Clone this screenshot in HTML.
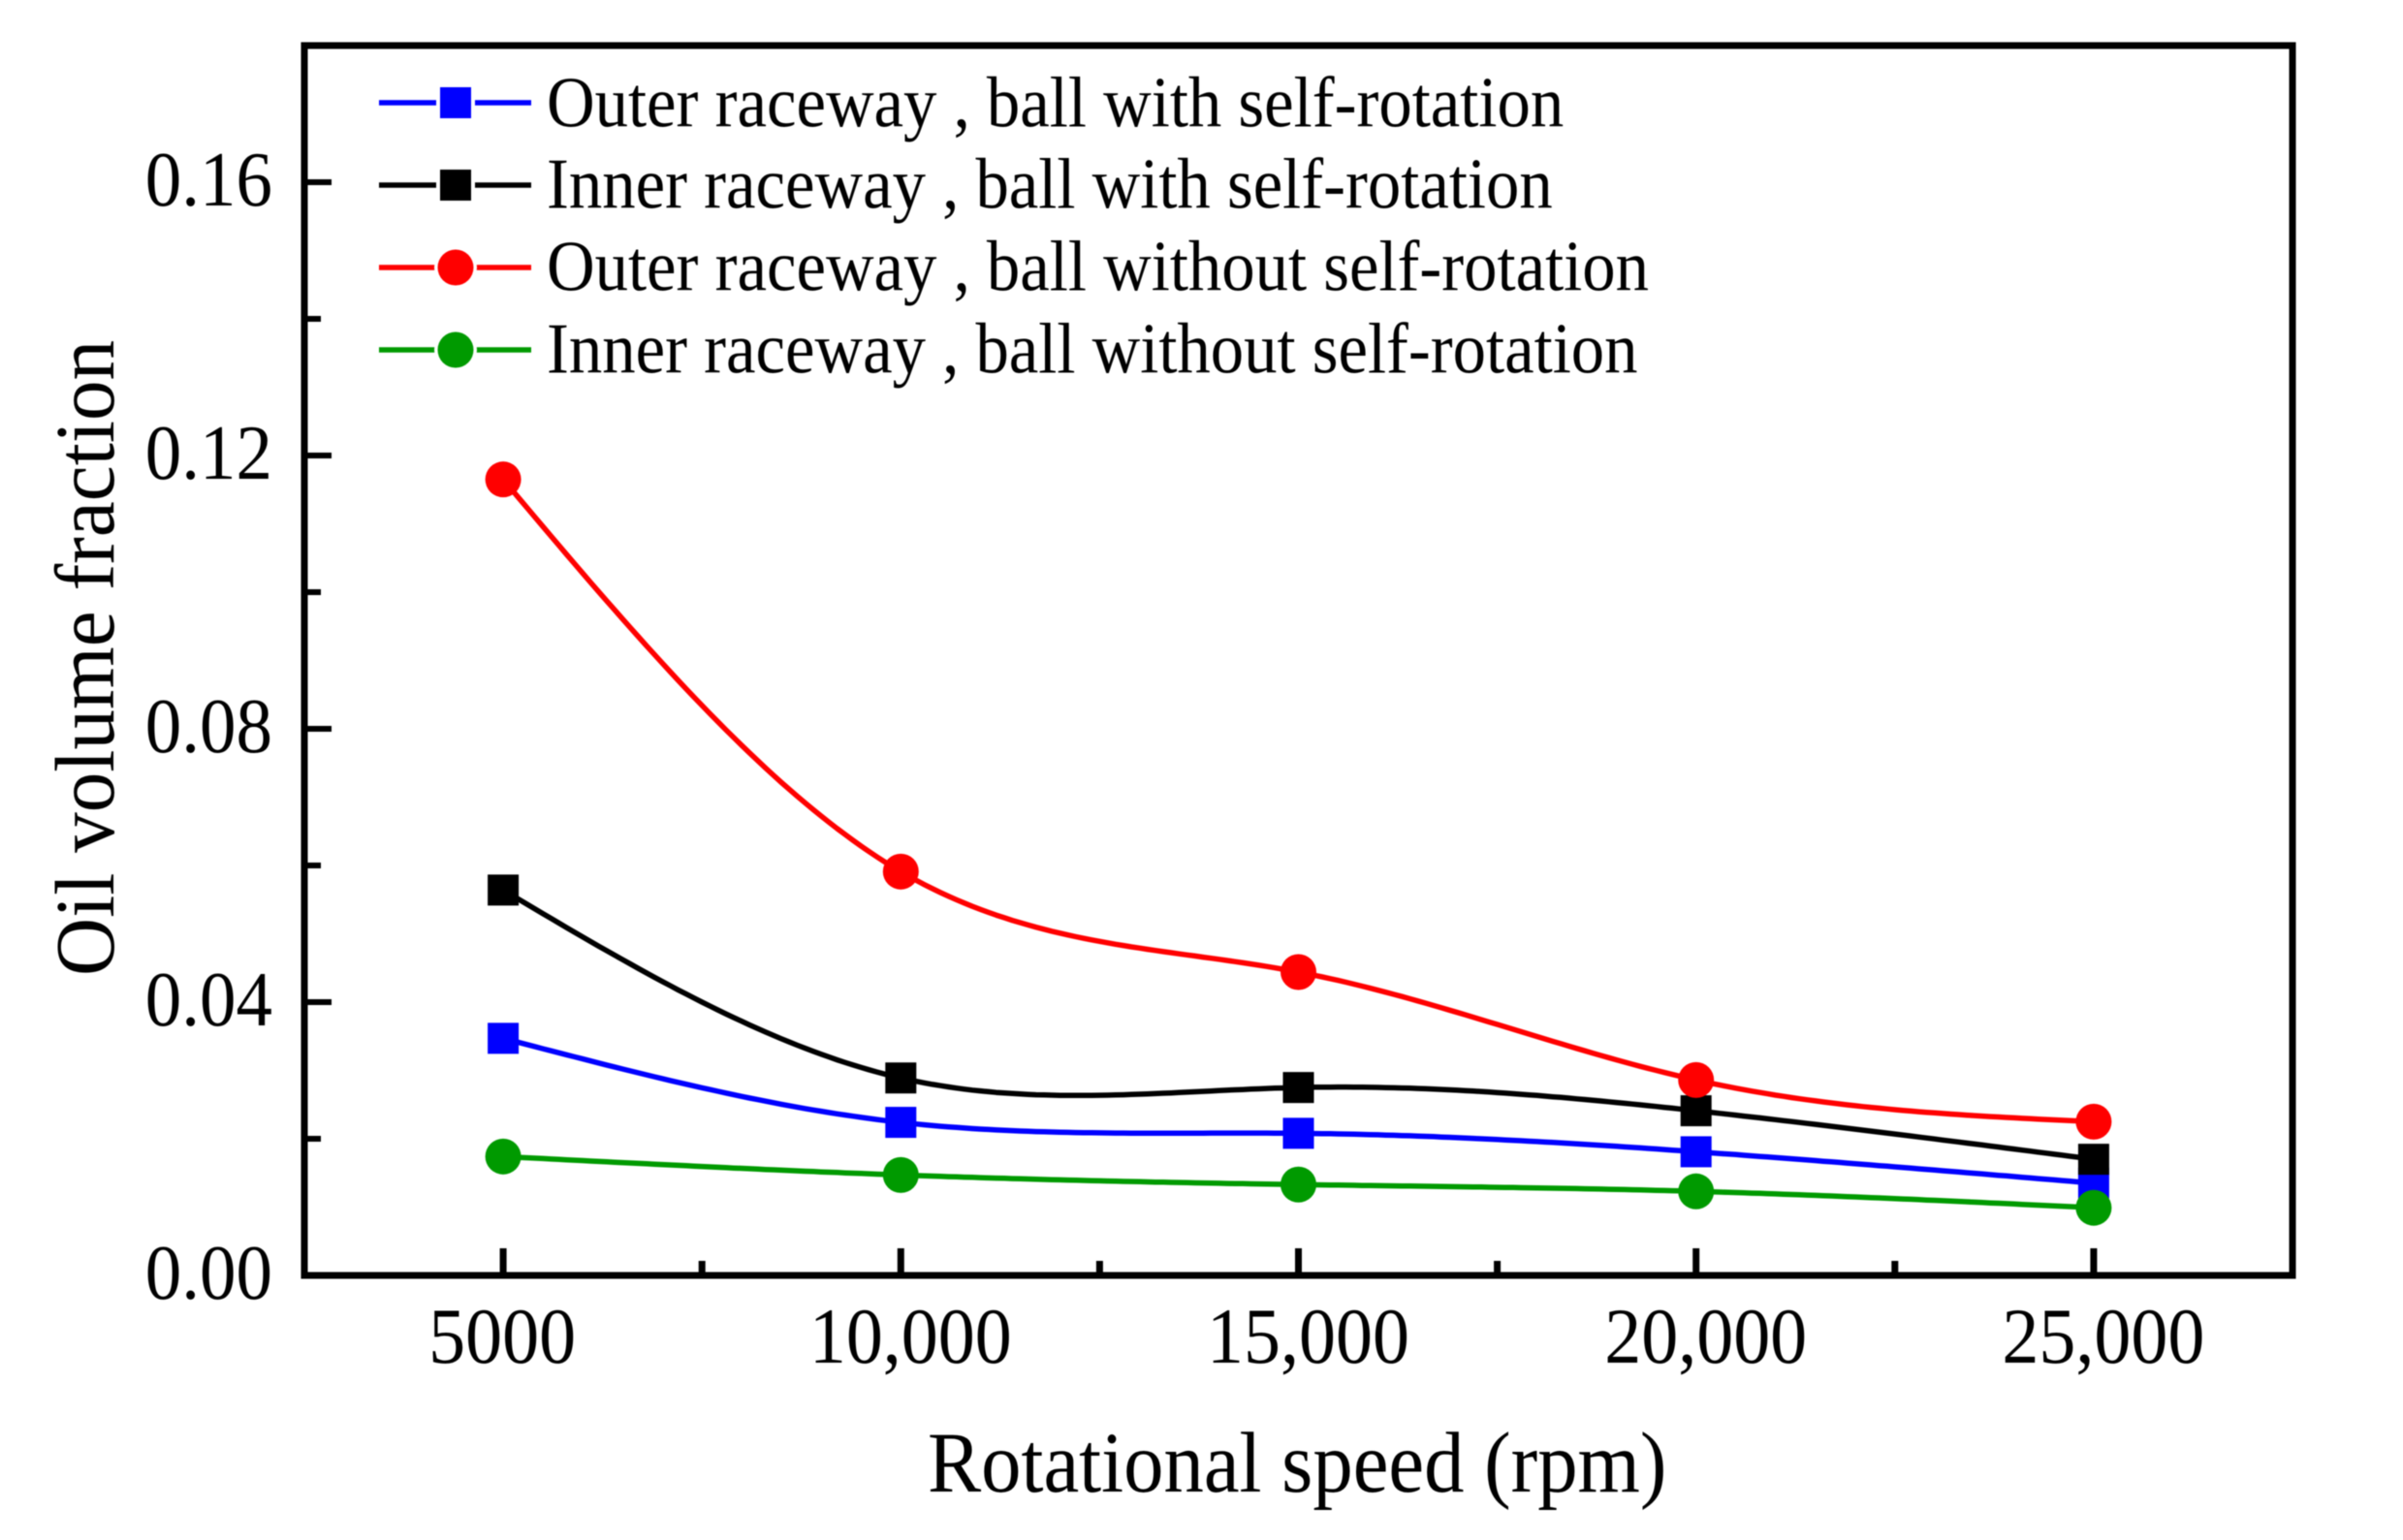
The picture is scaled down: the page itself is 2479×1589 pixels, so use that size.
<!DOCTYPE html>
<html lang="en">
<head>
<meta charset="utf-8">
<title>Oil volume fraction vs rotational speed</title>
<style>
html,body{margin:0;padding:0;background:#fff;width:2479px;height:1589px;overflow:hidden}
svg{display:block;filter:blur(0.6px)}
text{font-family:"Liberation Serif",serif;fill:#000}
</style>
</head>
<body>
<svg id="chart" xmlns="http://www.w3.org/2000/svg" width="2479" height="1589" viewBox="0 0 2479 1589">
  <rect x="0" y="0" width="2479" height="1589" fill="#fff"/>
  <g id="series-layer"></g>
  <rect x="314" y="47" width="2051" height="1269" fill="none" stroke="#000" stroke-width="7"/>
  <g id="tick-layer"></g>
  <text transform="translate(117 1007) rotate(-90) scale(1 1.04)" font-size="83.2">Oil volume fraction</text>
  <text transform="translate(957 1539) scale(1 1.08)" font-size="82.7">Rotational speed (rpm)</text>
  <g>
    <g>
      <line x1="391" x2="548" y1="106" y2="106" stroke="#0000ff" stroke-width="5.5"/>
      <rect x="450" y="86" width="40" height="40" fill="#fff"/>
      <rect x="454" y="90" width="32" height="32" fill="#0000ff"/>
      <text transform="translate(564 130.5) scale(1 1.08)" font-size="68.7">Outer raceway , ball with self-rotation</text>
    </g>
    <g>
      <line x1="391" x2="548" y1="191" y2="191" stroke="#000" stroke-width="5.5"/>
      <rect x="450" y="171" width="40" height="40" fill="#fff"/>
      <rect x="454" y="175" width="32" height="32" fill="#000"/>
      <text transform="translate(564 214.5) scale(1 1.08)" font-size="68.7">Inner raceway , ball with self-rotation</text>
    </g>
    <g>
      <line x1="391" x2="548" y1="276" y2="276" stroke="#ff0000" stroke-width="5.5"/>
      <circle cx="470" cy="276" r="22" fill="#fff"/>
      <circle cx="470" cy="276" r="18.5" fill="#ff0000"/>
      <text transform="translate(564 299.5) scale(1 1.08)" font-size="68.7">Outer raceway , ball without self-rotation</text>
    </g>
    <g>
      <line x1="391" x2="548" y1="361" y2="361" stroke="#009a00" stroke-width="5.5"/>
      <circle cx="470" cy="361" r="22" fill="#fff"/>
      <circle cx="470" cy="361" r="18.5" fill="#009a00"/>
      <text transform="translate(564 384.5) scale(1 1.08)" font-size="68.7">Inner raceway , ball without self-rotation</text>
    </g>
  </g>
</svg>
<script>
var speeds = [5000, 10000, 15000, 20000, 25000];
var outerWithRotation = [0.0347, 0.0224, 0.0208, 0.0181, 0.0135];
var innerWithRotation = [0.0564, 0.0289, 0.0275, 0.0241, 0.0170];
var outerWithoutRotation = [0.1165, 0.0591, 0.0444, 0.0286, 0.0225];
var innerWithoutRotation = [0.0174, 0.0147, 0.0133, 0.0123, 0.0099];
var xTickLabels = ["5000", "10,000", "15,000", "20,000", "25,000"];
var xMinorTicks = [7500, 12500, 17500, 22500];
var yTicks = [0, 0.04, 0.08, 0.12, 0.16];
var yTickLabels = ["0.00", "0.04", "0.08", "0.12", "0.16"];
var yMinorTicks = [0.02, 0.06, 0.10, 0.14];

var SVG_NS = "http://www.w3.org/2000/svg";
var plot = {left: 314, right: 2365, top: 47, bottom: 1316, xMin: 2500, xMax: 27500, yMin: 0, yMax: 0.18};

function xScale(v) {
  return plot.left + (v - plot.xMin) / (plot.xMax - plot.xMin) * (plot.right - plot.left);
}
function yScale(v) {
  return plot.bottom - (v - plot.yMin) / (plot.yMax - plot.yMin) * (plot.bottom - plot.top);
}
function svgEl(tag, attrs, parent) {
  var el = document.createElementNS(SVG_NS, tag);
  for (var k in attrs) { el.setAttribute(k, attrs[k]); }
  parent.appendChild(el);
  return el;
}
function naturalSpline(xs, ys) {
  var n = xs.length, m = new Array(n).fill(0), c = new Array(n).fill(0), d = new Array(n).fill(0);
  for (var i = 1; i < n - 1; i++) {
    var h0 = xs[i] - xs[i - 1], h1 = xs[i + 1] - xs[i];
    var b = 2 * (h0 + h1) - h0 * c[i - 1];
    c[i] = h1 / b;
    d[i] = (6 * ((ys[i + 1] - ys[i]) / h1 - (ys[i] - ys[i - 1]) / h0) - h0 * d[i - 1]) / b;
  }
  for (var j = n - 2; j > 0; j--) { m[j] = d[j] - c[j] * m[j + 1]; }
  return function (x) {
    var s = 0;
    while (s < n - 2 && x > xs[s + 1]) { s++; }
    var h = xs[s + 1] - xs[s], a = (xs[s + 1] - x) / h, e = (x - xs[s]) / h;
    return a * ys[s] + e * ys[s + 1] + ((a * a * a - a) * m[s] + (e * e * e - e) * m[s + 1]) * h * h / 6;
  };
}

var tickLayer = document.getElementById("tick-layer");
var seriesLayer = document.getElementById("series-layer");

speeds.forEach(function (v, i) {
  var tick = svgEl("line", {x1: xScale(v), x2: xScale(v), y1: plot.bottom, y2: plot.bottom - 28, stroke: "#000", "stroke-width": 7}, tickLayer);
  
  
  var lx = xScale(v) + (xTickLabels[i].indexOf(",") >= 0 ? 10 : -1);
  var label = svgEl("text", {transform: "translate(" + lx + " 1406) scale(1 1.08)", "text-anchor": "middle", "font-size": 76}, tickLayer);
  label.textContent = xTickLabels[i];
  
  
});
xMinorTicks.forEach(function (v) {
  var tick = svgEl("line", {x1: xScale(v), x2: xScale(v), y1: plot.bottom, y2: plot.bottom - 15, stroke: "#000", "stroke-width": 7}, tickLayer);
  
  
});
yTicks.forEach(function (v, i) {
  var tick = svgEl("line", {x1: plot.left, x2: plot.left + 28, y1: yScale(v), y2: yScale(v), stroke: "#000", "stroke-width": 6}, tickLayer);
  
  
  var label = svgEl("text", {transform: "translate(281 " + (yScale(v) + 24) + ") scale(1 1.08)", "text-anchor": "end", "font-size": 75}, tickLayer);
  label.textContent = yTickLabels[i];
  
  
});
yMinorTicks.forEach(function (v) {
  var tick = svgEl("line", {x1: plot.left, x2: plot.left + 17, y1: yScale(v), y2: yScale(v), stroke: "#000", "stroke-width": 6}, tickLayer);
  
  
});

function drawSeries(values, color, shape, name) {
  var spline = naturalSpline(speeds, values);
  var first = speeds[0], last = speeds[speeds.length - 1], pts = [];
  for (var s = 0; s <= 200; s++) {
    var xv = first + (last - first) * s / 200;
    pts.push(xScale(xv).toFixed(1) + "," + yScale(spline(xv)).toFixed(1));
  }
  var line = svgEl("polyline", {points: pts.join(" "), fill: "none", stroke: color, "stroke-width": 5.5, "stroke-linejoin": "round"}, seriesLayer);
  
  
  values.forEach(function (v, i) {
    var cx = xScale(speeds[i]), cy = yScale(v), mark;
    if (shape === "square") {
      mark = svgEl("rect", {x: cx - 16, y: cy - 16, width: 32, height: 32, fill: color}, seriesLayer);
    } else {
      mark = svgEl("circle", {cx: cx, cy: cy, r: 18.5, fill: color}, seriesLayer);
    }
    
    
  });
}
drawSeries(outerWithRotation, "#0000ff", "square", "outer-with-rotation");
drawSeries(innerWithRotation, "#000000", "square", "inner-with-rotation");
drawSeries(outerWithoutRotation, "#ff0000", "circle", "outer-without-rotation");
drawSeries(innerWithoutRotation, "#009a00", "circle", "inner-without-rotation");
</script>
</body>
</html>
